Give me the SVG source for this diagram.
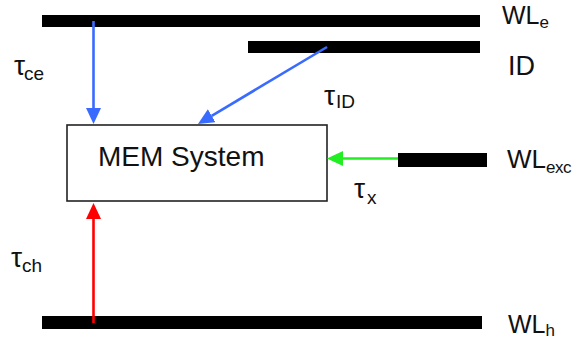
<svg xmlns="http://www.w3.org/2000/svg" width="578" height="344" viewBox="0 0 578 344">
<style>
text{font-family:"Liberation Sans","DejaVu Sans",sans-serif;fill:#111}
.bar{fill:#000}
.conn{stroke-width:2.6;fill:none}
.tau{font-size:28px}
.sub{font-size:19px}
</style>
<defs>
<marker id="ab" markerUnits="userSpaceOnUse" markerWidth="17" markerHeight="16" refX="0" refY="7.5" orient="auto"><path d="M0,0 L16,7.5 L0,15 z" fill="#3a6bff"/></marker>
<marker id="ar" markerUnits="userSpaceOnUse" markerWidth="17" markerHeight="16" refX="0" refY="7.5" orient="auto"><path d="M0,0 L16,7.5 L0,15 z" fill="#ff0000"/></marker>
<marker id="ag" markerUnits="userSpaceOnUse" markerWidth="17" markerHeight="16" refX="0" refY="7.5" orient="auto"><path d="M0,0 L16,7.5 L0,15 z" fill="#22ee22"/></marker>
</defs>
<rect width="578" height="344" fill="#fff"/>
<g id="wle"><rect class="bar" x="42" y="15" width="438" height="12"/><text x="502" y="24" font-size="25">WL<tspan dy="4" font-size="17">e</tspan></text></g>
<g id="id"><rect class="bar" x="248" y="41" width="232" height="12"/><text x="508" y="75" font-size="27">ID</text></g>
<g id="wlexc"><rect class="bar" x="398" y="153" width="89" height="14"/><text x="507" y="168" font-size="26">WL<tspan dy="5" font-size="17" letter-spacing="-0.5">exc</tspan></text></g>
<g id="wlh"><rect class="bar" x="42" y="316" width="440" height="13"/><text x="508" y="333" font-size="25">WL<tspan dy="3" font-size="17">h</tspan></text></g>
<g id="mem"><rect x="67" y="125" width="260" height="76" fill="#fff" stroke="#222" stroke-width="1.6"/><text x="98" y="166" font-size="28">MEM System</text></g>
<g id="connectors">
<line class="conn" x1="93.5" y1="21" x2="93.5" y2="108" stroke="#3a6bff" marker-end="url(#ab)"/>
<line class="conn" x1="327" y1="47" x2="211.7" y2="115.8" stroke="#3a6bff" marker-end="url(#ab)"/>
<line class="conn" x1="93.5" y1="323" x2="93.5" y2="219" stroke="#ff0000" marker-end="url(#ar)"/>
<line class="conn" x1="398" y1="158.5" x2="343" y2="158.5" stroke="#22ee22" marker-end="url(#ag)"/>
</g>
<g id="labels">
<text class="tau" x="14" y="75">τ<tspan class="sub" x="24" y="80">ce</tspan></text>
<text class="tau" x="324" y="105">τ<tspan class="sub" x="336" y="108" font-size="18">ID</tspan></text>
<text class="tau" x="354" y="198">τ<tspan class="sub" x="367" y="204">x</tspan></text>
<text class="tau" x="11" y="267">τ<tspan class="sub" x="22" y="272">ch</tspan></text>
</g>
</svg>
